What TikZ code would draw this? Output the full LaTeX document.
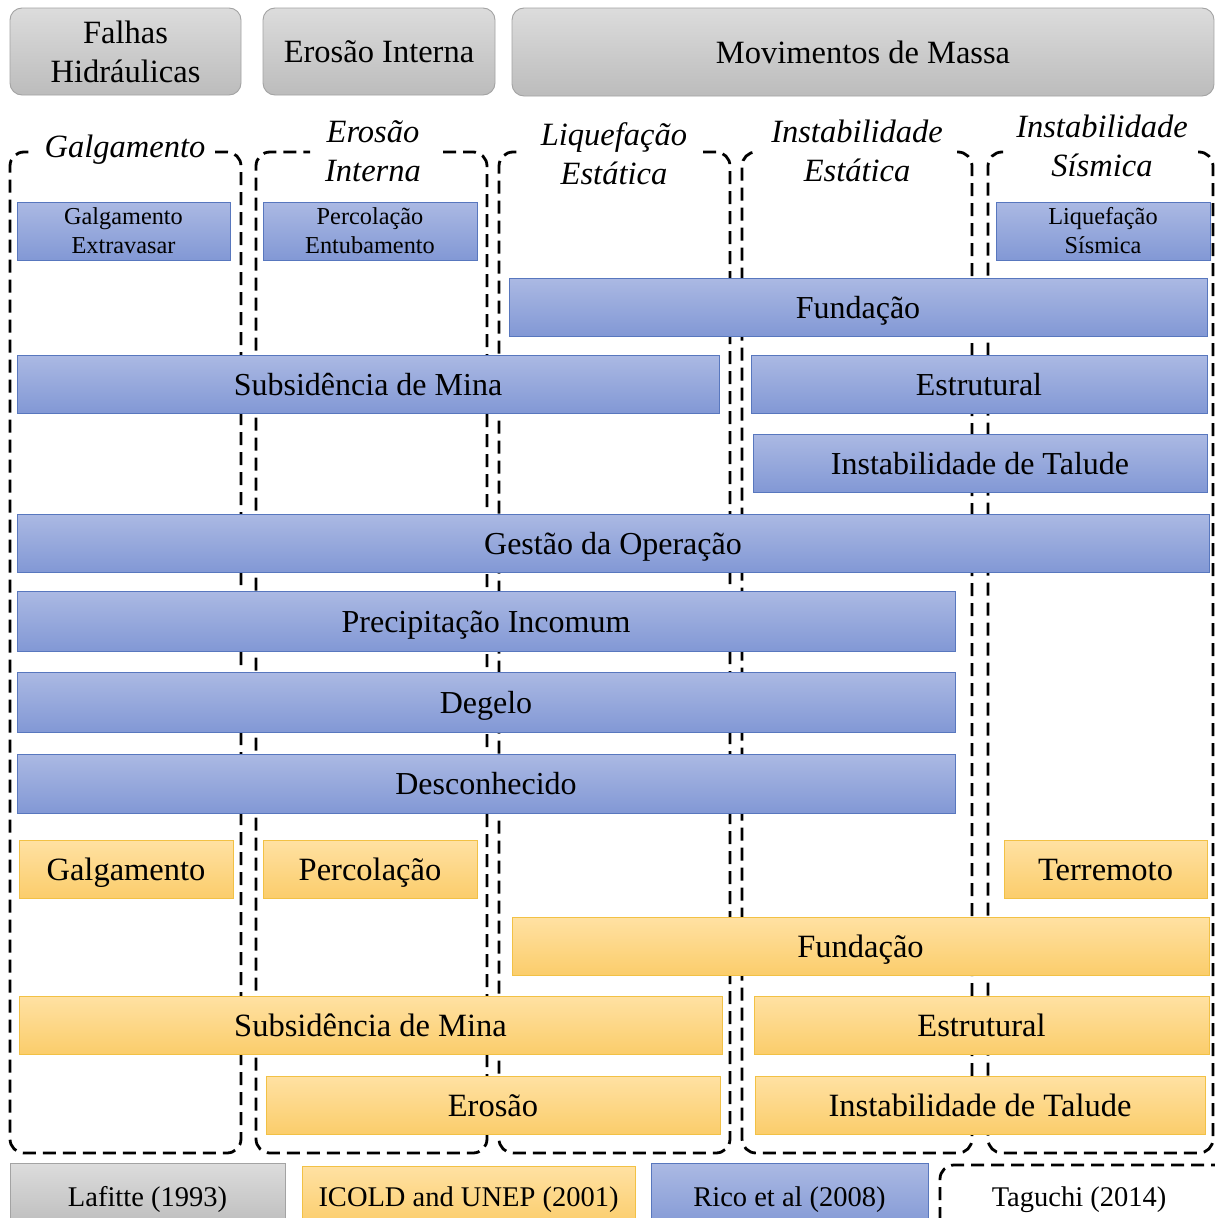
\documentclass[tikz,border=0pt]{standalone}
\usepackage{fontspec}
\setmainfont{Liberation Serif}
\usetikzlibrary{shadings}
\definecolor{grayT}{HTML}{DCDCDC}
\definecolor{grayD}{HTML}{BCBCBC}
\definecolor{grayE}{HTML}{A3A3A3}
\definecolor{blueT}{HTML}{ABB9E3}
\definecolor{blueD}{HTML}{8298D5}
\definecolor{blueE}{HTML}{5877BE}
\definecolor{oraT}{HTML}{FFE1A3}
\definecolor{oraD}{HTML}{FBCD6B}
\definecolor{oraE}{HTML}{F2C145}
\tikzset{
  base/.style={inner sep=0pt, outer sep=0pt, align=center, line width=0.9pt},
  oneline/.style={text height=29pt, text depth=7pt},
  legline/.style={text height=26pt, text depth=6pt},
  hdr/.style={base, draw=grayE, top color=grayT, bottom color=grayD, rounded corners=12pt, font=\fontsize{32.5}{39}\selectfont},
  bluebox/.style={base, oneline, draw=blueE, top color=blueT, bottom color=blueD, font=\fontsize{32}{35}\selectfont},
  blueSm/.style={base, draw=blueE, top color=blueT, bottom color=blueD, font=\fontsize{24.3}{29}\selectfont},
  orabox/.style={base, oneline, draw=oraE, top color=oraT, bottom color=oraD, font=\fontsize{32.5}{35}\selectfont},
  graybox/.style={base, legline, draw=grayE, top color=grayT, bottom color=grayD, font=\fontsize{28.5}{32}\selectfont},
  legblue/.style={base, legline, draw=blueE, top color=blueT, bottom color=blueD, font=\fontsize{28.5}{32}\selectfont},
  legora/.style={base, legline, draw=oraE, top color=oraT, bottom color=oraD, font=\fontsize{28.5}{32}\selectfont},
  legtext/.style={inner sep=0pt, legline, font=\fontsize{28.5}{32}\selectfont},
  coltitle/.style={inner sep=0pt, align=center, font=\itshape\fontsize{32.5}{39}\selectfont},
  colframe/.style={line width=2.8pt, dash pattern=on 13pt off 7pt, rounded corners=14pt},
}
\newcommand\bx[7]{\node[#2, minimum width={(#5-#3)*1pt}, minimum height={(#6-#4)*1pt}] (#1) at ({(#3+#5)/2},{(#4+#6)/2}) {#7};}
\begin{document}
\begin{tikzpicture}[x=1pt,y=-1pt]
\clip (0,0) rectangle (1215,1218);
\fill[white] (0,0) rectangle (1215,1218);
% header boxes
\bx{h1}{hdr}{10}{8}{241}{95}{Falhas\\Hidráulicas}
\bx{h2}{hdr}{263}{8}{495}{95}{Erosão Interna}
\bx{h3}{hdr}{512}{8}{1214}{96}{Movimentos de Massa}
% dashed column frames (top edge open where the title sits)
\draw[colframe] (215,152) -- (241,152) -- (241,1153) -- (10,1153) -- (10,152) -- (35,152);
\draw[colframe] (443,152) -- (487,152) -- (487,1153) -- (256,1153) -- (256,152) -- (310,152);
\draw[colframe] (703,152) -- (730,152) -- (730,1153) -- (499,1153) -- (499,152) -- (520,152);
\draw[colframe] (957,152) -- (972,152) -- (972,1153) -- (742,1153) -- (742,152) -- (757,152);
\draw[colframe] (1198,152) -- (1213,152) -- (1213,1153) -- (988,1153) -- (988,152) -- (1003,152);
% column titles
\node[coltitle] (t1) at (125,150) {Galgamento};
\node[coltitle] (t2) at (373,151) {Erosão\\Interna};
\node[coltitle] (t3) at (614,154) {Liquefação\\Estática};
\node[coltitle] (t4) at (857,151) {Instabilidade\\Estática};
\node[coltitle] (t5) at (1102,146) {Instabilidade\\Sísmica};
% blue boxes (Rico et al 2008)
\bx{b1}{blueSm}{17}{202}{230}{260}{Galgamento\\Extravasar}
\bx{b2}{blueSm}{263}{202}{477}{260}{Percolação\\Entubamento}
\bx{b3}{blueSm}{996}{202}{1210}{260}{Liquefação\\Sísmica}
\bx{b4}{bluebox}{509}{278}{1207}{336}{Fundação}
\bx{b5}{bluebox}{17}{355}{719}{413}{Subsidência de Mina}
\bx{b6}{bluebox}{751}{355}{1207}{413}{Estrutural}
\bx{b7}{bluebox}{753}{434}{1207}{492}{Instabilidade de Talude}
\bx{b8}{bluebox}{17}{514}{1209}{572}{Gestão da Operação}
\bx{b9}{bluebox}{17}{591}{955}{651}{Precipitação Incomum}
\bx{b10}{bluebox}{17}{672}{955}{732}{Degelo}
\bx{b11}{bluebox}{17}{754}{955}{813}{Desconhecido}
% orange boxes (ICOLD and UNEP 2001)
\bx{o1}{orabox}{19}{840}{233}{898}{Galgamento}
\bx{o2}{orabox}{263}{840}{477}{898}{Percolação}
\bx{o3}{orabox}{1004}{840}{1207}{898}{Terremoto}
\bx{o4}{orabox}{512}{917}{1209}{975}{Fundação}
\bx{o5}{orabox}{19}{996}{722}{1054}{Subsidência de Mina}
\bx{o6}{orabox}{754}{996}{1209}{1054}{Estrutural}
\bx{o7}{orabox}{266}{1076}{720}{1134}{Erosão}
\bx{o8}{orabox}{755}{1076}{1205}{1134}{Instabilidade de Talude}
% legend
\bx{l1}{graybox}{10}{1163}{285}{1229}{Lafitte (1993)}
\bx{l2}{legora}{302}{1166}{635}{1226}{ICOLD and UNEP (2001)}
\bx{l3}{legblue}{651}{1163}{928}{1229}{Rico et al (2008)}
\draw[colframe] (940,1240) -- (940,1165) -- (1240,1165);
\node[legtext] (l4) at (1079,1196) {Taguchi (2014)};
\end{tikzpicture}
\end{document}
